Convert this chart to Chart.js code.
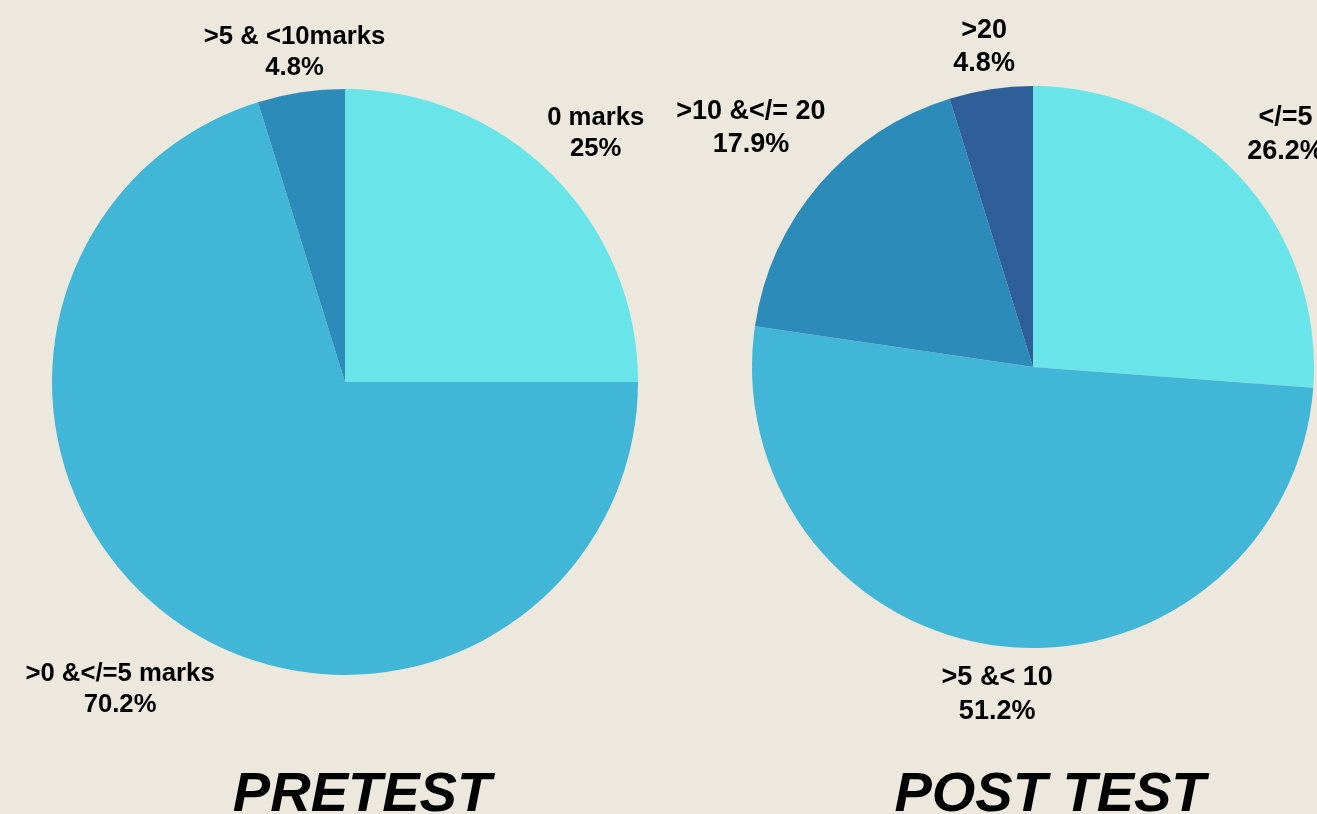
<!DOCTYPE html>
<html>
<head>
<meta charset="utf-8">
<script src="https://cdn.jsdelivr.net/npm/chart.js@4/dist/chart.umd.min.js"></script>
<style>
  html, body { margin: 0; padding: 0; background: #ECE8DE; overflow: hidden; }
  #wrap { position: relative; width: 1317px; height: 814px; }
  canvas { position: absolute; left: 0; top: 0; }
</style>
</head>
<body>
<div id="wrap">
  <canvas id="pre" width="1317" height="814"></canvas>
  <canvas id="post" width="1317" height="814"></canvas>
</div>
<script>
// ---- data ----
const preLabels = ['0 marks', '>0 &</=5 marks', '>5 & <10marks'];
const preValues = [25, 70.2, 4.8];
const postLabels = ['</=5', '>5 &< 10', '>10 &</= 20', '>20'];
const postValues = [26.2, 51.2, 17.9, 4.8];
const preTitle = 'PRETEST';
const postTitle = 'POST TEST';

const preColors = ['#69E4E8', '#42B6D6', '#2D8BBA'];
const postColors = ['#69E4E8', '#42B6D6', '#2D8BBA', '#2E5F99'];

const FONT = '"Liberation Sans", Arial, Helvetica, sans-serif';

const labelPlugin = {
  id: 'sliceLabels',
  afterDatasetsDraw(chart, args, opts) {
    const ctx = chart.ctx;
    const meta = chart.getDatasetMeta(0);
    const labels = chart.data.labels;
    const values = chart.data.datasets[0].data;
    meta.data.forEach((arc, i) => {
      const p = arc.getProps(['x', 'y', 'startAngle', 'endAngle', 'outerRadius'], true);
      const mid = (p.startAngle + p.endAngle) / 2;
      const d = p.outerRadius * opts.dist[i];
      const cx = p.x + Math.cos(mid) * d;
      const cy = p.y + Math.sin(mid) * d;
      const size = opts.size;
      const lh = opts.lineHeight;
      const capMid = 0.358 * size;
      ctx.save();
      ctx.fillStyle = '#000';
      ctx.font = 'bold ' + size + 'px ' + FONT;
      ctx.textAlign = 'center';
      ctx.textBaseline = 'alphabetic';
      ctx.fillText(labels[i], cx, cy - lh / 2 + capMid);
      ctx.fillText(values[i] + '%', cx, cy + lh / 2 + capMid);
      ctx.restore();
    });
    // caption under the pie
    const a = meta.data[0];
    ctx.save();
    ctx.fillStyle = '#000';
    ctx.font = 'italic bold 56px ' + FONT;
    ctx.textAlign = 'center';
    ctx.textBaseline = 'alphabetic';
    ctx.fillText(opts.caption, a.x + 17, 811);
    ctx.restore();
  }
};

function makePie(id, labels, values, colors, padding, labelOpts) {
  return new Chart(document.getElementById(id), {
    type: 'pie',
    data: {
      labels: labels,
      datasets: [{ data: values, backgroundColor: colors, borderWidth: 0, hoverOffset: 0 }]
    },
    options: {
      responsive: false,
      animation: false,
      events: [],
      layout: { padding: padding },
      plugins: {
        legend: { display: false },
        tooltip: { enabled: false },
        sliceLabels: labelOpts
      }
    },
    plugins: [labelPlugin]
  });
}

makePie('pre', preLabels, preValues, preColors,
  { left: 52, top: 89, right: 679, bottom: 139 },
  { dist: [1.21, 1.295, 1.146], size: 25.7, lineHeight: 31, caption: preTitle });

makePie('post', postLabels, postValues, postColors,
  { left: 752, top: 86, right: 3, bottom: 166 },
  { dist: [1.226, 1.164, 1.321, 1.159], size: 27, lineHeight: 33.5, caption: postTitle });
</script>
</body>
</html>
